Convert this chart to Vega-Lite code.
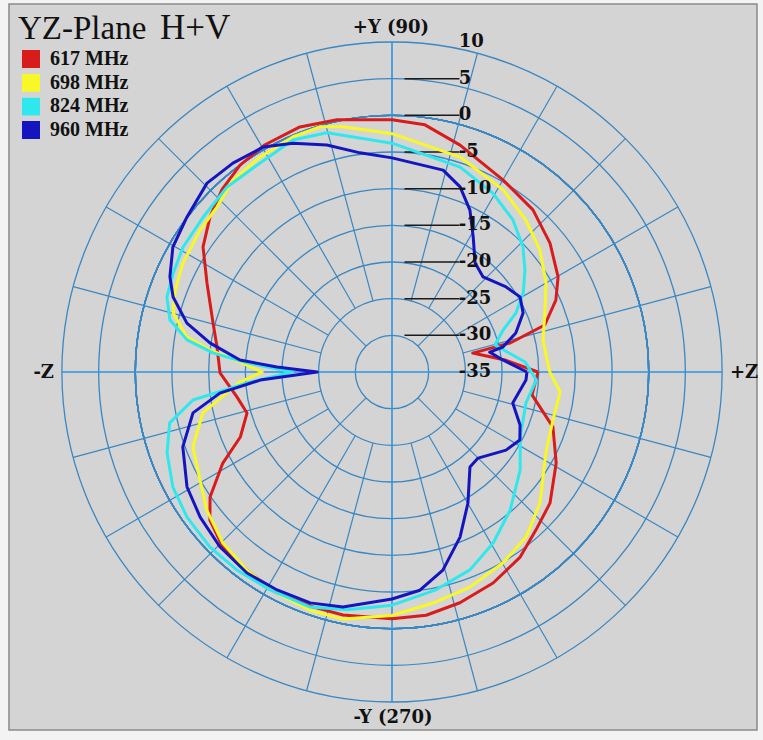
{
 "$schema": "https://vega.github.io/schema/vega-lite/v6.json",
 "width": 700,
 "height": 700,
 "autosize": {"type": "none"},
 "padding": {"left": 42, "top": 22, "right": 21, "bottom": 18},
 "background": "#f3f3f3",
 "config": {"view": {"stroke": null}},
 "layer": [
  {
   "data": {"values": [{}]},
   "mark": {"type": "rect", "fill": "#d4d4d4", "stroke": "#8a8a8a", "strokeWidth": 1.5},
   "encoding": {
    "x": {"datum": -52.23, "type": "quantitative", "scale": {"domain": [-47.727, 47.727], "nice": false, "zero": false}, "axis": null},
    "x2": {"datum": 49.77},
    "y": {"datum": 50.18, "type": "quantitative", "scale": {"domain": [-47.727, 47.727], "nice": false, "zero": false}, "axis": null},
    "y2": {"datum": -48.82}
   }
  },
  {
   "data": {"values": [{"db": 10}, {"db": 5}, {"db": 0}, {"db": -5}, {"db": -10}, {"db": -15}, {"db": -20}, {"db": -25}, {"db": -30}]},
   "mark": {"type": "arc", "filled": false, "stroke": "#3b87c2", "strokeWidth": 1.3, "theta": 0, "theta2": 6.2832},
   "encoding": {
    "radius": {"field": "db", "type": "quantitative", "stack": null, "scale": {"type": "linear", "domain": [-35, 10], "range": [0, 330], "zero": false, "nice": false}}
   }
  },
  {
   "data": {"values": [
    {"angle": 15, "from": -25, "to": 10}, {"angle": 30, "from": -25, "to": 10}, {"angle": 45, "from": -30, "to": 10},
    {"angle": 60, "from": -25, "to": 10}, {"angle": 75, "from": -25, "to": 10}, {"angle": 105, "from": -25, "to": 10},
    {"angle": 120, "from": -25, "to": 10}, {"angle": 135, "from": -30, "to": 10}, {"angle": 150, "from": -25, "to": 10},
    {"angle": 165, "from": -25, "to": 10}, {"angle": 195, "from": -25, "to": 10}, {"angle": 210, "from": -25, "to": 10},
    {"angle": 225, "from": -30, "to": 10}, {"angle": 240, "from": -25, "to": 10}, {"angle": 255, "from": -25, "to": 10},
    {"angle": 285, "from": -25, "to": 10}, {"angle": 300, "from": -25, "to": 10}, {"angle": 315, "from": -30, "to": 10},
    {"angle": 330, "from": -25, "to": 10}, {"angle": 345, "from": -25, "to": 10}
   ]},
   "transform": [
    {"calculate": "(datum.from+35)*cos(datum.angle*PI/180)", "as": "x0"},
    {"calculate": "(datum.from+35)*sin(datum.angle*PI/180)", "as": "y0"},
    {"calculate": "(datum.to+35)*cos(datum.angle*PI/180)", "as": "x1"},
    {"calculate": "(datum.to+35)*sin(datum.angle*PI/180)", "as": "y1"}
   ],
   "mark": {"type": "rule", "color": "#3b87c2", "strokeWidth": 1.2},
   "encoding": {
    "x": {"field": "x0", "type": "quantitative", "scale": {"domain": [-47.727, 47.727], "nice": false, "zero": false}, "axis": null},
    "y": {"field": "y0", "type": "quantitative", "scale": {"domain": [-47.727, 47.727], "nice": false, "zero": false}, "axis": null},
    "x2": {"field": "x1"},
    "y2": {"field": "y1"}
   }
  },
  {
   "data": {"values": [
    {"angle": 0, "from": -35, "to": 10}, {"angle": 90, "from": -35, "to": 10},
    {"angle": 180, "from": -35, "to": 10}, {"angle": 270, "from": -35, "to": 10}
   ]},
   "transform": [
    {"calculate": "(datum.from+35)*cos(datum.angle*PI/180)", "as": "x0"},
    {"calculate": "(datum.from+35)*sin(datum.angle*PI/180)", "as": "y0"},
    {"calculate": "(datum.to+35)*cos(datum.angle*PI/180)", "as": "x1"},
    {"calculate": "(datum.to+35)*sin(datum.angle*PI/180)", "as": "y1"}
   ],
   "mark": {"type": "rule", "color": "#2f93de", "strokeWidth": 1.6},
   "encoding": {
    "x": {"field": "x0", "type": "quantitative", "scale": {"domain": [-47.727, 47.727], "nice": false, "zero": false}, "axis": null},
    "y": {"field": "y0", "type": "quantitative", "scale": {"domain": [-47.727, 47.727], "nice": false, "zero": false}, "axis": null},
    "x2": {"field": "x1"},
    "y2": {"field": "y1"}
   }
  },
  {
   "data": {"values": [{"db": 5}, {"db": 0}, {"db": -5}, {"db": -10}, {"db": -15}, {"db": -20}, {"db": -25}, {"db": -30}]},
   "transform": [{"calculate": "datum.db+35", "as": "r"}],
   "mark": {"type": "rule", "color": "#1a1a1a", "strokeWidth": 1.5},
   "encoding": {
    "x": {"datum": 1.7, "type": "quantitative", "scale": {"domain": [-47.727, 47.727], "nice": false, "zero": false}, "axis": null},
    "x2": {"datum": 9.2},
    "y": {"field": "r", "type": "quantitative", "scale": {"domain": [-47.727, 47.727], "nice": false, "zero": false}, "axis": null}
   }
  },
  {
   "data": {"values": [
    {"freq": "617 MHz", "angle": 0, "db": -15.1}, {"freq": "617 MHz", "angle": 6.1, "db": -19.5}, {"freq": "617 MHz", "angle": 13.2, "db": -23.7},
    {"freq": "617 MHz", "angle": 13.8, "db": -18.4}, {"freq": "617 MHz", "angle": 17.1, "db": -13.2}, {"freq": "617 MHz", "angle": 23.7, "db": -10.6},
    {"freq": "617 MHz", "angle": 29.8, "db": -8.9}, {"freq": "617 MHz", "angle": 39.2, "db": -7.2}, {"freq": "617 MHz", "angle": 49.0, "db": -5.7},
    {"freq": "617 MHz", "angle": 60.0, "db": -4.75}, {"freq": "617 MHz", "angle": 73.3, "db": -2.7}, {"freq": "617 MHz", "angle": 82.4, "db": -1.0},
    {"freq": "617 MHz", "angle": 90, "db": -0.6}, {"freq": "617 MHz", "angle": 102.3, "db": 0.2}, {"freq": "617 MHz", "angle": 110.6, "db": 0.7},
    {"freq": "617 MHz", "angle": 119.2, "db": 0.5}, {"freq": "617 MHz", "angle": 126.3, "db": 0.0}, {"freq": "617 MHz", "angle": 133.0, "db": -1.0},
    {"freq": "617 MHz", "angle": 139.6, "db": -2.4}, {"freq": "617 MHz", "angle": 146.5, "db": -4.1}, {"freq": "617 MHz", "angle": 154.3, "db": -7.0},
    {"freq": "617 MHz", "angle": 164.7, "db": -9.7}, {"freq": "617 MHz", "angle": 171.9, "db": -10.9}, {"freq": "617 MHz", "angle": 180.3, "db": -11.55},
    {"freq": "617 MHz", "angle": 189.2, "db": -13.6}, {"freq": "617 MHz", "angle": 195.8, "db": -14.45}, {"freq": "617 MHz", "angle": 203.2, "db": -12.5},
    {"freq": "617 MHz", "angle": 208.3, "db": -8.8}, {"freq": "617 MHz", "angle": 214.5, "db": -4.9}, {"freq": "617 MHz", "angle": 219.1, "db": -3.0},
    {"freq": "617 MHz", "angle": 226.0, "db": -1.8}, {"freq": "617 MHz", "angle": 233.8, "db": -1.5}, {"freq": "617 MHz", "angle": 242.5, "db": -1.0},
    {"freq": "617 MHz", "angle": 251.4, "db": -1.2}, {"freq": "617 MHz", "angle": 258.6, "db": -1.2}, {"freq": "617 MHz", "angle": 270, "db": -1.35},
    {"freq": "617 MHz", "angle": 278.0, "db": -1.5}, {"freq": "617 MHz", "angle": 286.4, "db": -2.2}, {"freq": "617 MHz", "angle": 295.6, "db": -3.1},
    {"freq": "617 MHz", "angle": 304.7, "db": -4.3}, {"freq": "617 MHz", "angle": 312.3, "db": -5.85}, {"freq": "617 MHz", "angle": 320.3, "db": -7.0},
    {"freq": "617 MHz", "angle": 331.0, "db": -9.4}, {"freq": "617 MHz", "angle": 341.1, "db": -11.8}, {"freq": "617 MHz", "angle": 350.7, "db": -15.65},
    {"freq": "617 MHz", "angle": 360, "db": -15.1},

    {"freq": "698 MHz", "angle": 0, "db": -13.5}, {"freq": "698 MHz", "angle": 12.0, "db": -13.95}, {"freq": "698 MHz", "angle": 21.1, "db": -12.65},
    {"freq": "698 MHz", "angle": 30.0, "db": -10.75}, {"freq": "698 MHz", "angle": 39.5, "db": -8.85}, {"freq": "698 MHz", "angle": 48.6, "db": -7.4},
    {"freq": "698 MHz", "angle": 58.6, "db": -5.9}, {"freq": "698 MHz", "angle": 72.4, "db": -4.25}, {"freq": "698 MHz", "angle": 90, "db": -2.5},
    {"freq": "698 MHz", "angle": 101.3, "db": -0.9}, {"freq": "698 MHz", "angle": 106.4, "db": -0.15}, {"freq": "698 MHz", "angle": 112.8, "db": -0.2},
    {"freq": "698 MHz", "angle": 121.5, "db": -0.6}, {"freq": "698 MHz", "angle": 129.6, "db": -1.0}, {"freq": "698 MHz", "angle": 136.7, "db": -2.2},
    {"freq": "698 MHz", "angle": 143.5, "db": -2.45}, {"freq": "698 MHz", "angle": 152.5, "db": -2.85}, {"freq": "698 MHz", "angle": 159.3, "db": -3.4},
    {"freq": "698 MHz", "angle": 164.9, "db": -4.1}, {"freq": "698 MHz", "angle": 170.3, "db": -6.6}, {"freq": "698 MHz", "angle": 173.1, "db": -10.0},
    {"freq": "698 MHz", "angle": 176.2, "db": -14.2}, {"freq": "698 MHz", "angle": 180, "db": -17.3}, {"freq": "698 MHz", "angle": 183.8, "db": -14.2},
    {"freq": "698 MHz", "angle": 192.2, "db": -8.6}, {"freq": "698 MHz", "angle": 200.6, "db": -6.0}, {"freq": "698 MHz", "angle": 209.4, "db": -4.95},
    {"freq": "698 MHz", "angle": 216.7, "db": -3.5}, {"freq": "698 MHz", "angle": 225.3, "db": -2.2}, {"freq": "698 MHz", "angle": 233.8, "db": -1.5},
    {"freq": "698 MHz", "angle": 242.5, "db": -1.0}, {"freq": "698 MHz", "angle": 251.0, "db": -0.65}, {"freq": "698 MHz", "angle": 258.8, "db": -0.65},
    {"freq": "698 MHz", "angle": 270, "db": -1.8}, {"freq": "698 MHz", "angle": 280.1, "db": -3.0}, {"freq": "698 MHz", "angle": 289.9, "db": -3.8},
    {"freq": "698 MHz", "angle": 300.2, "db": -4.9}, {"freq": "698 MHz", "angle": 309.1, "db": -6.0}, {"freq": "698 MHz", "angle": 318.5, "db": -8.05},
    {"freq": "698 MHz", "angle": 332.3, "db": -11.3}, {"freq": "698 MHz", "angle": 343.4, "db": -12.1}, {"freq": "698 MHz", "angle": 353.2, "db": -11.9},
    {"freq": "698 MHz", "angle": 360, "db": -13.5},

    {"freq": "824 MHz", "angle": 0, "db": -16.0}, {"freq": "824 MHz", "angle": 4.3, "db": -16.8}, {"freq": "824 MHz", "angle": 14.7, "db": -20.5},
    {"freq": "824 MHz", "angle": 20.7, "db": -18.8}, {"freq": "824 MHz", "angle": 25.4, "db": -16.3}, {"freq": "824 MHz", "angle": 31.1, "db": -14.1},
    {"freq": "824 MHz", "angle": 37.5, "db": -12.15}, {"freq": "824 MHz", "angle": 43.7, "db": -10.3}, {"freq": "824 MHz", "angle": 51.5, "db": -8.5},
    {"freq": "824 MHz", "angle": 60.6, "db": -7.0}, {"freq": "824 MHz", "angle": 71.6, "db": -5.55}, {"freq": "824 MHz", "angle": 90, "db": -3.8},
    {"freq": "824 MHz", "angle": 105.2, "db": -1.2}, {"freq": "824 MHz", "angle": 113.1, "db": -0.6}, {"freq": "824 MHz", "angle": 122.3, "db": -1.3},
    {"freq": "824 MHz", "angle": 131.7, "db": -1.2}, {"freq": "824 MHz", "angle": 140.6, "db": -1.7}, {"freq": "824 MHz", "angle": 149.1, "db": -1.8},
    {"freq": "824 MHz", "angle": 155.7, "db": -2.25}, {"freq": "824 MHz", "angle": 161.6, "db": -2.65}, {"freq": "824 MHz", "angle": 166.8, "db": -3.9},
    {"freq": "824 MHz", "angle": 171.1, "db": -6.7}, {"freq": "824 MHz", "angle": 173.9, "db": -10.45}, {"freq": "824 MHz", "angle": 176.4, "db": -15.2},
    {"freq": "824 MHz", "angle": 180, "db": -21.4}, {"freq": "824 MHz", "angle": 184.3, "db": -15.2}, {"freq": "824 MHz", "angle": 188.0, "db": -7.6},
    {"freq": "824 MHz", "angle": 192.9, "db": -3.9}, {"freq": "824 MHz", "angle": 199.8, "db": -2.4}, {"freq": "824 MHz", "angle": 207.7, "db": -1.25},
    {"freq": "824 MHz", "angle": 215.3, "db": -0.75}, {"freq": "824 MHz", "angle": 223.9, "db": -0.55}, {"freq": "824 MHz", "angle": 231.9, "db": -0.7},
    {"freq": "824 MHz", "angle": 240.8, "db": -0.95}, {"freq": "824 MHz", "angle": 250.8, "db": -1.05}, {"freq": "824 MHz", "angle": 259.3, "db": -2.0},
    {"freq": "824 MHz", "angle": 270, "db": -3.2}, {"freq": "824 MHz", "angle": 281.4, "db": -4.7}, {"freq": "824 MHz", "angle": 291.5, "db": -6.0},
    {"freq": "824 MHz", "angle": 300.6, "db": -7.9}, {"freq": "824 MHz", "angle": 310.5, "db": -10.2}, {"freq": "824 MHz", "angle": 322.6, "db": -13.0},
    {"freq": "824 MHz", "angle": 333.1, "db": -15.4}, {"freq": "824 MHz", "angle": 347.0, "db": -16.25}, {"freq": "824 MHz", "angle": 356.8, "db": -15.3},
    {"freq": "824 MHz", "angle": 360, "db": -16.0},

    {"freq": "960 MHz", "angle": 0, "db": -16.6}, {"freq": "960 MHz", "angle": 6.2, "db": -19.8}, {"freq": "960 MHz", "angle": 11.5, "db": -21.4},
    {"freq": "960 MHz", "angle": 12.7, "db": -19.5}, {"freq": "960 MHz", "angle": 17.5, "db": -17.3}, {"freq": "960 MHz", "angle": 24.2, "db": -15.4},
    {"freq": "960 MHz", "angle": 30.4, "db": -14.75}, {"freq": "960 MHz", "angle": 36.7, "db": -15.6}, {"freq": "960 MHz", "angle": 46.2, "db": -17.05},
    {"freq": "960 MHz", "angle": 52.7, "db": -16.3}, {"freq": "960 MHz", "angle": 59.0, "db": -13.5}, {"freq": "960 MHz", "angle": 64.3, "db": -10.5},
    {"freq": "960 MHz", "angle": 69.8, "db": -8.1}, {"freq": "960 MHz", "angle": 75.8, "db": -6.6}, {"freq": "960 MHz", "angle": 90, "db": -5.8},
    {"freq": "960 MHz", "angle": 98.3, "db": -4.8}, {"freq": "960 MHz", "angle": 106.0, "db": -2.8}, {"freq": "960 MHz", "angle": 113.4, "db": -1.0},
    {"freq": "960 MHz", "angle": 119.8, "db": 0.35}, {"freq": "960 MHz", "angle": 127.3, "db": 0.8}, {"freq": "960 MHz", "angle": 134.4, "db": 1.05},
    {"freq": "960 MHz", "angle": 142.9, "db": 0.05}, {"freq": "960 MHz", "angle": 150.3, "db": -0.6}, {"freq": "960 MHz", "angle": 156.8, "db": -2.05},
    {"freq": "960 MHz", "angle": 161.1, "db": -3.45}, {"freq": "960 MHz", "angle": 166.6, "db": -6.25}, {"freq": "960 MHz", "angle": 170.9, "db": -9.85},
    {"freq": "960 MHz", "angle": 175.5, "db": -14.2}, {"freq": "960 MHz", "angle": 177.5, "db": -19.3}, {"freq": "960 MHz", "angle": 180, "db": -24.8},
    {"freq": "960 MHz", "angle": 183.5, "db": -17.0}, {"freq": "960 MHz", "angle": 187.0, "db": -11.35}, {"freq": "960 MHz", "angle": 191.6, "db": -7.3},
    {"freq": "960 MHz", "angle": 199.7, "db": -4.7}, {"freq": "960 MHz", "angle": 209.3, "db": -2.95}, {"freq": "960 MHz", "angle": 217.1, "db": -2.2},
    {"freq": "960 MHz", "angle": 225.5, "db": -1.55}, {"freq": "960 MHz", "angle": 234.2, "db": -1.2}, {"freq": "960 MHz", "angle": 242.2, "db": -1.4},
    {"freq": "960 MHz", "angle": 250.5, "db": -1.6}, {"freq": "960 MHz", "angle": 258.2, "db": -2.25}, {"freq": "960 MHz", "angle": 270, "db": -4.05},
    {"freq": "960 MHz", "angle": 277.3, "db": -5.0}, {"freq": "960 MHz", "angle": 284.4, "db": -7.1}, {"freq": "960 MHz", "angle": 292.4, "db": -10.65},
    {"freq": "960 MHz", "angle": 300.1, "db": -14.35}, {"freq": "960 MHz", "angle": 309.4, "db": -18.25}, {"freq": "960 MHz", "angle": 315.0, "db": -18.4},
    {"freq": "960 MHz", "angle": 325.6, "db": -16.15}, {"freq": "960 MHz", "angle": 332.0, "db": -15.25}, {"freq": "960 MHz", "angle": 337.5, "db": -16.1},
    {"freq": "960 MHz", "angle": 345.6, "db": -18.0}, {"freq": "960 MHz", "angle": 356.6, "db": -16.7}, {"freq": "960 MHz", "angle": 360, "db": -16.6}
   ]},
   "transform": [
    {"calculate": "(datum.db+35)*cos(datum.angle*PI/180)", "as": "x"},
    {"calculate": "(datum.db+35)*sin(datum.angle*PI/180)", "as": "y"}
   ],
   "mark": {"type": "line", "strokeWidth": 3, "strokeJoin": "round"},
   "encoding": {
    "x": {"field": "x", "type": "quantitative", "scale": {"domain": [-47.727, 47.727], "nice": false, "zero": false}, "axis": null},
    "y": {"field": "y", "type": "quantitative", "scale": {"domain": [-47.727, 47.727], "nice": false, "zero": false}, "axis": null},
    "order": {"field": "angle", "type": "quantitative"},
    "color": {
     "field": "freq", "type": "nominal",
     "scale": {"domain": ["617 MHz", "698 MHz", "824 MHz", "960 MHz"], "range": ["#d81c1c", "#f8f828", "#2ee8ee", "#1515c0"]},
     "legend": {
      "orient": "none", "legendX": -21, "legendY": 28, "title": null,
      "symbolType": "square", "symbolSize": 81, "symbolStrokeWidth": 9,
      "labelFont": "Liberation Serif", "labelFontWeight": "bold", "labelFontSize": 20, "labelColor": "#111111",
      "labelOffset": 9, "rowPadding": 3.7, "clipHeight": 18, "padding": 0
     }
    }
   }
  },
  {
   "data": {"values": [
    {"db": 10, "label": "10"}, {"db": 5, "label": "5"}, {"db": 0, "label": "0"}, {"db": -5, "label": "-5"},
    {"db": -10, "label": "-10"}, {"db": -15, "label": "-15"}, {"db": -20, "label": "-20"}, {"db": -25, "label": "-25"},
    {"db": -30, "label": "-30"}, {"db": -35, "label": "-35"}
   ]},
   "transform": [{"calculate": "datum.db+35", "as": "r"}],
   "mark": {"type": "text", "align": "left", "baseline": "middle", "font": "DejaVu Serif", "fontWeight": "bold", "fontSize": 18, "color": "#111111"},
   "encoding": {
    "x": {"datum": 9.1, "type": "quantitative", "scale": {"domain": [-47.727, 47.727], "nice": false, "zero": false}, "axis": null},
    "y": {"field": "r", "type": "quantitative", "scale": {"domain": [-47.727, 47.727], "nice": false, "zero": false}, "axis": null},
    "text": {"field": "label"}
   }
  },
  {
   "data": {"values": [{"label": "YZ-Plane"}]},
   "mark": {"type": "text", "align": "left", "baseline": "alphabetic", "font": "Liberation Serif", "fontSize": 33, "color": "#111111"},
   "encoding": {
    "x": {"datum": -51.0, "type": "quantitative", "scale": {"domain": [-47.727, 47.727], "nice": false, "zero": false}, "axis": null},
    "y": {"datum": 45.41, "type": "quantitative", "scale": {"domain": [-47.727, 47.727], "nice": false, "zero": false}, "axis": null},
    "text": {"field": "label"}
   }
  },
  {
   "data": {"values": [{"label": "H+V"}]},
   "mark": {"type": "text", "align": "left", "baseline": "alphabetic", "font": "Liberation Serif", "fontSize": 35, "color": "#111111"},
   "encoding": {
    "x": {"datum": -31.64, "type": "quantitative", "scale": {"domain": [-47.727, 47.727], "nice": false, "zero": false}, "axis": null},
    "y": {"datum": 45.41, "type": "quantitative", "scale": {"domain": [-47.727, 47.727], "nice": false, "zero": false}, "axis": null},
    "text": {"field": "label"}
   }
  },
  {
   "data": {"values": [{"label": "+Y (90)"}]},
   "mark": {"type": "text", "align": "center", "baseline": "middle", "font": "DejaVu Serif", "fontWeight": "bold", "fontSize": 18, "color": "#111111"},
   "encoding": {
    "x": {"datum": -0.14, "type": "quantitative", "scale": {"domain": [-47.727, 47.727], "nice": false, "zero": false}, "axis": null},
    "y": {"datum": 46.9, "type": "quantitative", "scale": {"domain": [-47.727, 47.727], "nice": false, "zero": false}, "axis": null},
    "text": {"field": "label"}
   }
  },
  {
   "data": {"values": [{"label": "-Y (270)"}]},
   "mark": {"type": "text", "align": "center", "baseline": "middle", "font": "DejaVu Serif", "fontWeight": "bold", "fontSize": 18, "color": "#111111"},
   "encoding": {
    "x": {"datum": 0.14, "type": "quantitative", "scale": {"domain": [-47.727, 47.727], "nice": false, "zero": false}, "axis": null},
    "y": {"datum": -47.18, "type": "quantitative", "scale": {"domain": [-47.727, 47.727], "nice": false, "zero": false}, "axis": null},
    "text": {"field": "label"}
   }
  },
  {
   "data": {"values": [{"label": "-Z"}]},
   "mark": {"type": "text", "align": "right", "baseline": "middle", "font": "DejaVu Serif", "fontWeight": "bold", "fontSize": 18, "color": "#111111"},
   "encoding": {
    "x": {"datum": -46.09, "type": "quantitative", "scale": {"domain": [-47.727, 47.727], "nice": false, "zero": false}, "axis": null},
    "y": {"datum": -0.14, "type": "quantitative", "scale": {"domain": [-47.727, 47.727], "nice": false, "zero": false}, "axis": null},
    "text": {"field": "label"}
   }
  },
  {
   "data": {"values": [{"label": "+Z"}]},
   "mark": {"type": "text", "align": "left", "baseline": "middle", "font": "DejaVu Serif", "fontWeight": "bold", "fontSize": 18, "color": "#111111"},
   "encoding": {
    "x": {"datum": 46.09, "type": "quantitative", "scale": {"domain": [-47.727, 47.727], "nice": false, "zero": false}, "axis": null},
    "y": {"datum": -0.14, "type": "quantitative", "scale": {"domain": [-47.727, 47.727], "nice": false, "zero": false}, "axis": null},
    "text": {"field": "label"}
   }
  }
 ]
}
